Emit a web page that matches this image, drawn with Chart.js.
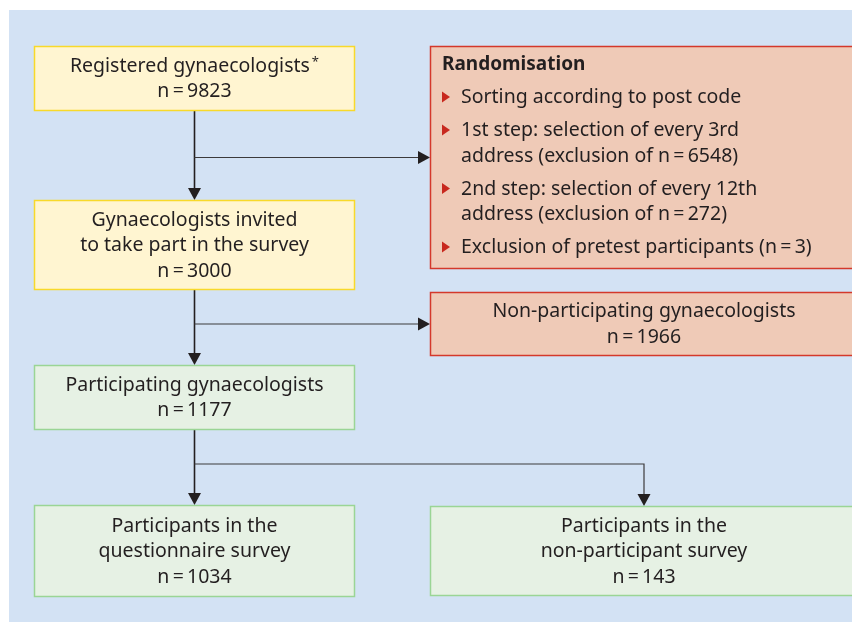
<!DOCTYPE html>
<html>
<head>
<meta charset="utf-8">
<script src="https://cdn.jsdelivr.net/npm/chart.js@4.4.1/dist/chart.umd.min.js"></script>
<style>
  html, body { margin: 0; padding: 0; background: #fff; }
  canvas { display: block; }
</style>
</head>
<body>
<canvas id="flow" width="852" height="622"></canvas>
<script>
// stages of the survey flow
const stageNames = ['registered', 'invited', 'nonParticipating', 'participating', 'questionnaire', 'nonParticipant']
const stageLines = [
  ['Registered gynaecologists'],
  ['Gynaecologists invited', 'to take part in the survey'],
  ['Non-participating gynaecologists'],
  ['Participating gynaecologists'],
  ['Participants in the', 'questionnaire survey'],
  ['Participants in the', 'non-participant survey']
]
const stageCounts = [9823, 3000, 1966, 1177, 1034, 143]
const footnoteMark = ['registered']

const randomTitle = 'Randomisation'
const randomSteps = [
  ['Sorting according to post code'],
  ['1st step: selection of every 3rd', 'address (exclusion of n\u2009=\u20096548)'],
  ['2nd step: selection of every 12th', 'address (exclusion of n\u2009=\u2009272)'],
  ['Exclusion of pretest participants (n\u2009=\u20093)']
]

// layout in chart units (x 0..852, y 0..622 top-down)
const boxes = {
  registered:       { x0: 34,  y0: 46,  x1: 355, y1: 111, kind: 'yellow' },
  invited:          { x0: 34,  y0: 200, x1: 355, y1: 290, kind: 'yellow' },
  randomisation:    { x0: 430, y0: 46,  x1: 858, y1: 269, kind: 'red' },
  nonParticipating: { x0: 430, y0: 292, x1: 858, y1: 356, kind: 'red' },
  participating:    { x0: 34,  y0: 365, x1: 355, y1: 430, kind: 'green' },
  questionnaire:    { x0: 34,  y0: 505, x1: 355, y1: 597, kind: 'green' },
  nonParticipant:   { x0: 430, y0: 506, x1: 858, y1: 596, kind: 'green' }
}
const boxStyles = {
  yellow: { fill: '#fff5d1', stroke: '#f8d92a' },
  red:    { fill: '#efcab7', stroke: '#d4382b' },
  green:  { fill: '#e6f1e4', stroke: '#9ad595' }
}
const panel = { x0: 9, y0: 10, x1: 852, y1: 622, fill: '#d3e2f4' }
const splitY = 464

const textColor = '#231f20'
const fontFamily = '"Noto Sans", "Open Sans", sans-serif'
const fontSize = 19.5
const lineH = 25.5

function fmtN(v) {
  return 'n\u2009=\u2009' + v
}

const flowPlugin = {
  id: 'flow',
  beforeDraw(chart) {
    const ctx = chart.ctx
    const sx = chart.scales.x, sy = chart.scales.y
    const px = v => sx.getPixelForValue(v)
    const py = v => sy.getPixelForValue(v)

    ctx.save()
    ctx.fillStyle = '#fff'
    ctx.fillRect(0, 0, chart.width, chart.height)
    ctx.fillStyle = panel.fill
    ctx.fillRect(px(panel.x0), py(panel.y0), px(panel.x1) - px(panel.x0), py(panel.y1) - py(panel.y0))

    // connectors
    ctx.fillStyle = '#231f20'
    function line(pts, w, col) {
      ctx.strokeStyle = col
      ctx.lineWidth = w
      ctx.beginPath()
      pts.forEach((p, i) => i ? ctx.lineTo(px(p[0]), py(p[1])) : ctx.moveTo(px(p[0]), py(p[1])))
      ctx.stroke()
    }
    const vline = pts => line(pts, 1.6, '#231f20')
    const hline = pts => line(pts, 1.2, '#3c3a3b')
    function headDown(x, y) {
      ctx.beginPath()
      ctx.moveTo(px(x), py(y))
      ctx.lineTo(px(x) - 6.5, py(y) - 12)
      ctx.lineTo(px(x) + 6.5, py(y) - 12)
      ctx.closePath()
      ctx.fill()
    }
    function headRight(x, y) {
      ctx.beginPath()
      ctx.moveTo(px(x), py(y))
      ctx.lineTo(px(x) - 12, py(y) - 6.5)
      ctx.lineTo(px(x) - 12, py(y) + 6.5)
      ctx.closePath()
      ctx.fill()
    }
    const cx = b => (b.x0 + b.x1) / 2
    const cy = b => (b.y0 + b.y1) / 2
    const B = boxes
    // registered -> invited, branch to randomisation
    vline([[cx(B.registered), B.registered.y1], [cx(B.registered), B.invited.y0 - 10]])
    headDown(cx(B.registered), B.invited.y0)
    hline([[cx(B.registered), cy(B.randomisation)], [B.randomisation.x0 - 10, cy(B.randomisation)]])
    headRight(B.randomisation.x0, cy(B.randomisation))
    // invited -> participating, branch to non-participating
    vline([[cx(B.invited), B.invited.y1], [cx(B.invited), B.participating.y0 - 10]])
    headDown(cx(B.invited), B.participating.y0)
    hline([[cx(B.invited), cy(B.nonParticipating)], [B.nonParticipating.x0 - 10, cy(B.nonParticipating)]])
    headRight(B.nonParticipating.x0, cy(B.nonParticipating))
    // participating -> both surveys
    vline([[cx(B.participating), B.participating.y1], [cx(B.participating), B.questionnaire.y0 - 10]])
    headDown(cx(B.participating), B.questionnaire.y0)
    hline([[cx(B.participating), splitY], [cx(B.nonParticipant), splitY], [cx(B.nonParticipant), B.nonParticipant.y0 - 10]])
    headDown(cx(B.nonParticipant), B.nonParticipant.y0)

    // boxes
    Object.keys(boxes).forEach(k => {
      const b = boxes[k], st = boxStyles[b.kind]
      const x = px(b.x0), y = py(b.y0), w = px(b.x1) - x, h = py(b.y1) - y
      ctx.fillStyle = st.fill
      ctx.fillRect(x, y, w, h)
      ctx.strokeStyle = st.stroke
      ctx.lineWidth = 1.5
      ctx.strokeRect(x + 0.5, y + 0.5, w - 1, h - 1)
    })

    // stage texts
    ctx.fillStyle = textColor
    ctx.textAlign = 'center'
    ctx.textBaseline = 'alphabetic'
    stageNames.forEach((name, i) => {
      const b = boxes[name]
      const lines = stageLines[i].concat([fmtN(stageCounts[i])])
      const mx = px(cx(b)), my = py(cy(b))
      lines.forEach((t, j) => {
        const yy = my + (j - (lines.length - 1) / 2) * lineH + 6
        ctx.font = fontSize + 'px ' + fontFamily
        if (j === 0 && footnoteMark.includes(name)) {
          const w = ctx.measureText(t).width
          ctx.font = '13px ' + fontFamily
          const wa = ctx.measureText('*').width + 2
          ctx.textAlign = 'left'
          ctx.font = fontSize + 'px ' + fontFamily
          const left = mx - (w + wa) / 2
          ctx.fillText(t, left, yy)
          ctx.font = '13px ' + fontFamily
          ctx.fillText('*', left + w + 2, yy - 6)
          ctx.textAlign = 'center'
        } else {
          ctx.fillText(t, mx, yy)
        }
      })
    })

    // randomisation list
    const rb = boxes.randomisation
    const lx = px(rb.x0) + 12
    let by = py(rb.y0) + 24
    ctx.textAlign = 'left'
    ctx.font = 'bold ' + (fontSize - 0.5) + 'px ' + fontFamily
    ctx.fillText(randomTitle, lx, by)
    ctx.font = fontSize + 'px ' + fontFamily
    by += 33
    randomSteps.forEach(step => {
      ctx.fillStyle = '#c8281e'
      ctx.beginPath()
      ctx.moveTo(lx, by - 11.5)
      ctx.lineTo(lx + 8, by - 6)
      ctx.lineTo(lx, by - 0.5)
      ctx.closePath()
      ctx.fill()
      ctx.fillStyle = textColor
      step.forEach((t, j) => {
        ctx.fillText(t, lx + 19, by + j * lineH)
      })
      by += (step.length - 1) * lineH + 33
    })
    ctx.restore()
  }
}

new Chart(document.getElementById('flow'), {
  type: 'scatter',
  data: { datasets: [{ data: [], pointRadius: 0 }] },
  options: {
    responsive: false,
    animation: false,
    layout: { padding: 0 },
    scales: {
      x: { type: 'linear', min: 0, max: 852, display: false },
      y: { type: 'linear', min: 0, max: 622, reverse: true, display: false }
    },
    plugins: { legend: { display: false }, tooltip: { enabled: false } }
  },
  plugins: [flowPlugin]
})
</script>
</body>
</html>
